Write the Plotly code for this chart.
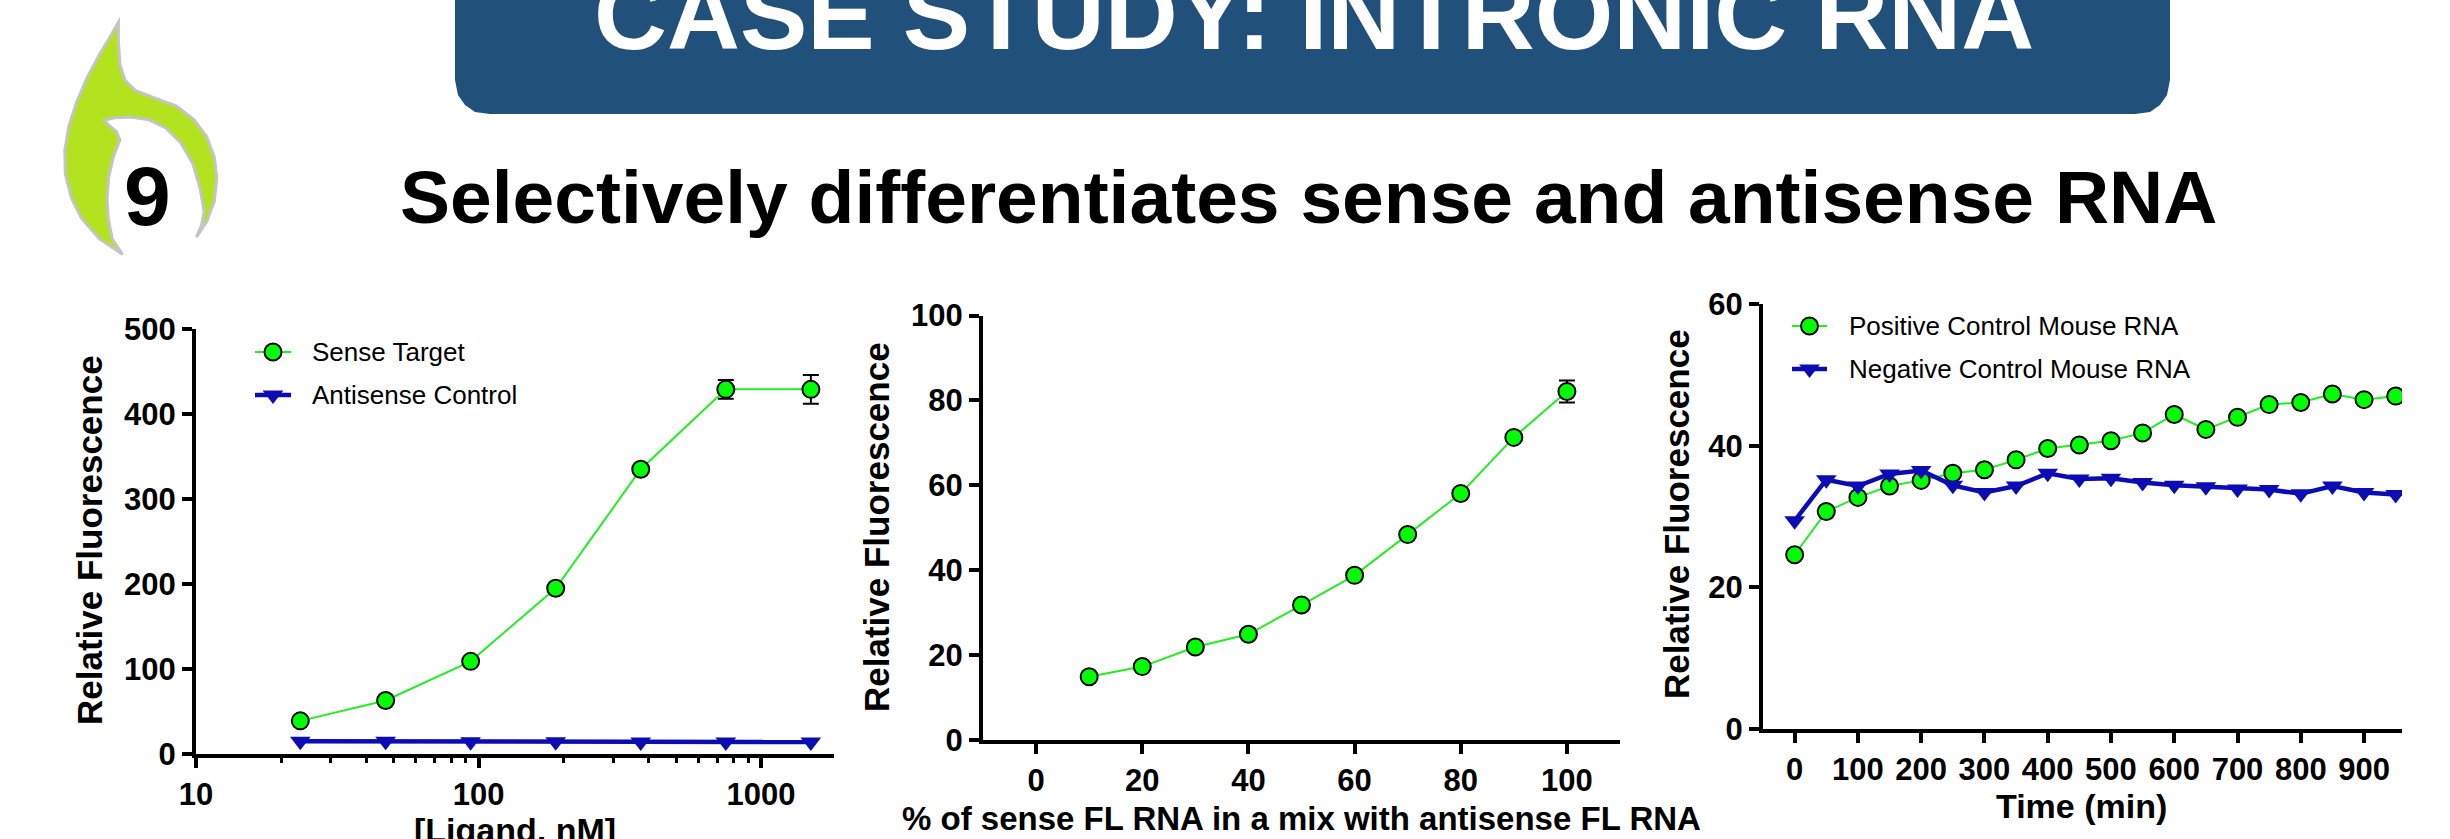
import plotly.graph_objects as go

# ---------------- data ----------------
ligand_nM = [23.4, 46.9, 93.75, 187.5, 375, 750, 1500]
sense_target = [39, 63, 109, 195, 335, 429, 429]
sense_target_err = [None, None, None, None, None, 11, 17]
antisense_control = [15, 15, 14.5, 14.5, 14, 14, 14]

pct_sense = [10, 20, 30, 40, 50, 60, 70, 80, 90, 100]
mix_fluor = [14.9, 17.3, 21.9, 24.9, 31.8, 38.8, 48.4, 58.1, 71.3, 82.1]
mix_err = [None, None, None, None, None, None, None, None, None, 2.6]

time_min = [0, 50, 100, 150, 200, 250, 300, 350, 400, 450, 500, 550, 600, 650, 700, 750, 800, 850, 900, 950]
positive_ctrl = [24.6, 30.7, 32.7, 34.3, 35.1, 36.1, 36.6, 38.0, 39.6, 40.1, 40.7, 41.8, 44.4, 42.3, 44.0, 45.8, 46.1, 47.3, 46.5, 47.0]
negative_ctrl = [29.4, 35.2, 34.3, 36.0, 36.5, 34.4, 33.4, 34.3, 36.1, 35.3, 35.4, 34.8, 34.4, 34.2, 33.9, 33.8, 33.2, 34.3, 33.4, 33.1]

ligand_tickvals = [10, 100, 1000]
ligand_ticktext = ["10", "100", "1000"]
ligand_minor = [20, 30, 40, 50, 60, 70, 80, 90, 200, 300, 400, 500, 600, 700, 800, 900]

# ---------------- style ----------------
W, H = 2450, 839
FONT = "Arial, 'Liberation Sans', sans-serif"
GREEN = "#00ff00"
GREEN_LINE = "#22ee22"
BLUE = "#0c0cb5"
BANNER = "#21507a"
LOGO_GREEN = "#b3e21f"


def px(x):
    return x / W


def py(y):
    return 1 - y / H


def path_from(points, close=True):
    s = "M {:.5f} {:.5f} ".format(px(points[0][0]), py(points[0][1]))
    for x, y in points[1:]:
        s += "L {:.5f} {:.5f} ".format(px(x), py(y))
    return s + ("Z" if close else "")


fig = go.Figure()

circle_marker = dict(symbol="circle", size=17, color=GREEN, line=dict(color="black", width=2))
tri_marker = dict(symbol="triangle-down", size=18, color=BLUE, line=dict(width=0))
green_line = dict(color=GREEN_LINE, width=2)
blue_line = dict(color=BLUE, width=4.5)

# chart 1
fig.add_trace(go.Scatter(
    x=ligand_nM, y=sense_target, mode="lines+markers", name="Sense Target",
    xaxis="x", yaxis="y", line=green_line, marker=circle_marker,
    error_y=dict(type="data", array=sense_target_err, color="black", thickness=2, width=8)))
fig.add_trace(go.Scatter(
    x=ligand_nM, y=antisense_control, mode="lines+markers", name="Antisense Control",
    xaxis="x", yaxis="y", line=blue_line, marker=tri_marker))

# chart 2
fig.add_trace(go.Scatter(
    x=pct_sense, y=mix_fluor, mode="lines+markers", name="mix",
    xaxis="x2", yaxis="y2", line=green_line, marker=circle_marker,
    error_y=dict(type="data", array=mix_err, color="black", thickness=2, width=8)))

# chart 3
fig.add_trace(go.Scatter(
    x=time_min, y=positive_ctrl, mode="lines+markers", name="Positive Control Mouse RNA",
    xaxis="x3", yaxis="y3", line=green_line, marker=circle_marker))
fig.add_trace(go.Scatter(
    x=time_min, y=negative_ctrl, mode="lines+markers", name="Negative Control Mouse RNA",
    xaxis="x3", yaxis="y3", line=blue_line, marker=tri_marker))

common = dict(showline=True, linecolor="black", linewidth=4, ticks="outside",
              tickcolor="black", tickwidth=3.5, ticklen=10, showgrid=False,
              zeroline=False, fixedrange=True, automargin=False,
              tickfont=dict(family=FONT, size=31, color="black", weight="bold"))

shapes = []
annotations = []


def legend_block(entries, x0, x1, xt, y0, dy):
    xc = (x0 + x1) / 2
    for i, (name, kind) in enumerate(entries):
        yc = y0 + i * dy
        if kind == "circle":
            shapes.append(dict(type="line", xref="paper", yref="paper",
                               x0=px(x0), x1=px(x1), y0=py(yc), y1=py(yc),
                               line=dict(color=GREEN_LINE, width=2)))
            r = 8.5
            shapes.append(dict(type="circle", xref="paper", yref="paper",
                               x0=px(xc - r), x1=px(xc + r), y0=py(yc + r), y1=py(yc - r),
                               fillcolor=GREEN, line=dict(color="black", width=2)))
        else:
            shapes.append(dict(type="line", xref="paper", yref="paper",
                               x0=px(x0), x1=px(x1), y0=py(yc), y1=py(yc),
                               line=dict(color=BLUE, width=4.5)))
            r = 9
            rt = r * 2 / 3 ** 0.5
            shapes.append(dict(type="path", xref="paper", yref="paper",
                               path=path_from([(xc - rt, yc - r / 2), (xc + rt, yc - r / 2), (xc, yc + r)]),
                               fillcolor=BLUE, line=dict(width=0)))
        annotations.append(dict(text=name, x=px(xt), y=py(yc), xref="paper", yref="paper",
                                showarrow=False, xanchor="left", yanchor="middle",
                                font=dict(family=FONT, size=26, color="black")))


legend_block([(fig.data[0].name, "circle"), (fig.data[1].name, "tri")], 255, 291, 310, 352, 43)
legend_block([(fig.data[3].name, "circle"), (fig.data[4].name, "tri")], 1792, 1827, 1847, 326, 43)

annotations += [
    dict(text="CASE STUDY: INTRONIC RNA", x=px(1314), y=py(14), xref="paper", yref="paper",
         showarrow=False, xanchor="center", yanchor="middle",
         font=dict(family=FONT, size=101, color="white", weight="bold")),
    dict(text="Selectively differentiates sense and antisense RNA", x=px(1308), y=py(197),
         xref="paper", yref="paper", showarrow=False, xanchor="center", yanchor="middle",
         font=dict(family=FONT, size=75, color="black", weight="bold")),
    dict(text="9", x=px(147), y=py(196), xref="paper", yref="paper", showarrow=False,
         xanchor="center", yanchor="middle",
         font=dict(family=FONT, size=84, color="black", weight="bold")),
    dict(text="Relative Fluorescence", x=px(89), y=py(540), xref="paper", yref="paper",
         showarrow=False, textangle=-90, xanchor="center", yanchor="middle",
         font=dict(family=FONT, size=35, color="black", weight="bold")),
    dict(text="Relative Fluorescence", x=px(876), y=py(527), xref="paper", yref="paper",
         showarrow=False, textangle=-90, xanchor="center", yanchor="middle",
         font=dict(family=FONT, size=35, color="black", weight="bold")),
    dict(text="Relative Fluorescence", x=px(1676), y=py(514), xref="paper", yref="paper",
         showarrow=False, textangle=-90, xanchor="center", yanchor="middle",
         font=dict(family=FONT, size=35, color="black", weight="bold")),
    dict(text="[Ligand, nM]", x=px(515), y=py(830), xref="paper", yref="paper",
         showarrow=False, xanchor="center", yanchor="middle",
         font=dict(family=FONT, size=34, color="black", weight="bold")),
    dict(text="% of sense FL RNA in a mix with antisense FL RNA", x=px(1301), y=py(818),
         xref="paper", yref="paper", showarrow=False, xanchor="center", yanchor="middle",
         font=dict(family=FONT, size=33, color="black", weight="bold")),
    dict(text="Time (min)", x=px(2081), y=py(806), xref="paper", yref="paper",
         showarrow=False, xanchor="center", yanchor="middle",
         font=dict(family=FONT, size=34, color="black", weight="bold")),
]

banner = [(455, -20), (455, 80), (458, 95), (465, 105), (475, 112), (490, 114),
          (2135, 114), (2150, 112), (2160, 105), (2167, 95), (2170, 80), (2170, -20)]
logo = [(118.4, 22.2), (109.7, 37.5), (99.5, 54.6), (86.7, 78.5), (76.5, 102.4), (68.9, 126.3),
        (64.8, 150.2), (65.3, 174.1), (71.4, 197.9), (81.6, 218.4), (99.5, 238.9), (122.4, 254.3),
        (112.2, 238.9), (108.2, 218.4), (107.1, 197.9), (108.7, 177.5), (113.3, 157), (119.9, 139.9),
        (116.3, 131.4), (108.2, 124.6), (104.6, 120.1),
        (114.8, 117.7), (130.1, 117.1), (148, 119.5), (165.8, 128), (181.1, 143.3), (192.9, 163.8),
        (200, 187.7), (204.1, 211.6), (201.5, 225.3), (196.4, 237.2),
        (206.6, 221.8), (214.3, 201.4), (216.8, 177.5), (214.3, 157), (206.6, 136.5), (193.9, 119.5),
        (176, 105.8), (153.1, 97.3), (135.2, 90.4), (125, 80.2), (119.9, 64.8), (118.4, 41)]

shapes = [
    dict(type="path", xref="paper", yref="paper", path=path_from(banner),
         fillcolor=BANNER, line=dict(width=0), layer="below"),
    dict(type="path", xref="paper", yref="paper", path=path_from(logo),
         fillcolor=LOGO_GREEN, line=dict(color="#c4c4c4", width=3), layer="below"),
] + shapes

fig.update_layout(
    width=W, height=H, autosize=False,
    margin=dict(l=0, r=0, t=0, b=0, pad=0, autoexpand=False),
    paper_bgcolor="white", plot_bgcolor="white",
    showlegend=False,
    xaxis=dict(type="log", range=[1, 3.258], domain=[px(196), px(834)], anchor="y",
               tickvals=ligand_tickvals, ticktext=ligand_ticktext,
               minor=dict(tickvals=ligand_minor, ticks="outside", ticklen=5,
                          tickwidth=3, tickcolor="black", showgrid=False),
               **common),
    yaxis=dict(range=[0, 500], dtick=100, tick0=0, domain=[py(754), py(329)], anchor="x", **common),
    xaxis2=dict(range=[-10, 110], dtick=20, tick0=0, domain=[px(983), px(1620)], anchor="y2", **common),
    yaxis2=dict(range=[0, 100], dtick=20, tick0=0, domain=[py(740), py(315.6)], anchor="x2", **common),
    xaxis3=dict(range=[-50, 960], dtick=100, tick0=0, domain=[px(1763), px(2402)], anchor="y3", **common),
    yaxis3=dict(range=[0, 60], dtick=20, tick0=0, domain=[py(729), py(304)], anchor="x3", **common),
    annotations=annotations,
    shapes=shapes,
)

fig.write_html("out.html", config={"displayModeBar": False},
               post_script="document.body.style.margin='0';document.body.style.overflow='hidden';")
